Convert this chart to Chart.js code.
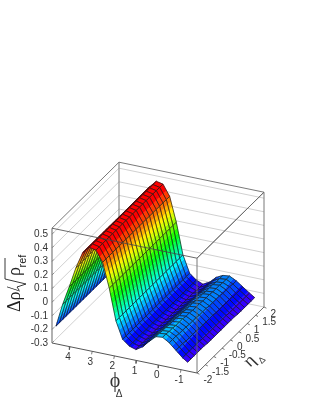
<!DOCTYPE html>
<html>
<head>
<meta charset="utf-8">
<style>
  html, body { margin: 0; padding: 0; background: #fff; }
  canvas { display: block; }
</style>
<script src="https://cdn.jsdelivr.net/npm/chart.js@4"></script>
</head>
<body>
<canvas id="surfaceChart" width="319" height="412"></canvas>
<script>
// Values
const phiNodes = [4.63, 4.33, 4.03, 3.73, 3.43, 3.13, 2.83, 2.53, 2.23, 1.93, 1.63, 1.33, 1.03, 0.73, 0.43, 0.13, -0.17, -0.47, -0.77, -1.07, -1.3];
const etaNodes = [-2, -1.8, -1.6, -1.4, -1.2, -1, -0.8, -0.6, -0.4, -0.2, 0, 0.2, 0.4, 0.6, 0.8, 1, 1.2, 1.4, 1.6, 1.8, 2];
// one row per phi node, one column per eta node
const zRows = [
  [-0.17, -0.17, -0.17, -0.17, -0.17, -0.17, -0.17, -0.17, -0.17, -0.17, -0.17, -0.17, -0.17, -0.17, -0.17, -0.17, -0.17, -0.17, -0.17, -0.17, -0.17],
  [0, 0, 0, 0, 0, 0, 0, 0, 0, 0, 0, 0, 0, 0, 0, 0, 0, 0, 0, 0, 0],
  [0.14, 0.14, 0.14, 0.14, 0.14, 0.14, 0.14, 0.14, 0.14, 0.14, 0.14, 0.14, 0.14, 0.14, 0.14, 0.14, 0.14, 0.14, 0.14, 0.14, 0.14],
  [0.29, 0.29, 0.29, 0.29, 0.29, 0.29, 0.29, 0.29, 0.29, 0.29, 0.29, 0.29, 0.29, 0.29, 0.29, 0.29, 0.29, 0.29, 0.29, 0.29, 0.29],
  [0.41, 0.41, 0.41, 0.41, 0.41, 0.41, 0.41, 0.41, 0.41, 0.41, 0.41, 0.41, 0.41, 0.41, 0.41, 0.41, 0.41, 0.41, 0.41, 0.41, 0.41],
  [0.46, 0.46, 0.46, 0.46, 0.46, 0.46, 0.46, 0.46, 0.46, 0.46, 0.46, 0.46, 0.46, 0.46, 0.46, 0.46, 0.46, 0.46, 0.46, 0.46, 0.46],
  [0.45, 0.45, 0.45, 0.45, 0.45, 0.45, 0.45, 0.45, 0.45, 0.45, 0.45, 0.45, 0.45, 0.45, 0.45, 0.45, 0.45, 0.45, 0.45, 0.45, 0.45],
  [0.37, 0.37, 0.37, 0.37, 0.37, 0.37, 0.37, 0.37, 0.37, 0.37, 0.37, 0.37, 0.37, 0.37, 0.37, 0.37, 0.37, 0.37, 0.37, 0.37, 0.37],
  [0.19, 0.19, 0.19, 0.19, 0.19, 0.19, 0.19, 0.19, 0.19, 0.19, 0.19, 0.19, 0.19, 0.19, 0.19, 0.19, 0.19, 0.19, 0.19, 0.19, 0.19],
  [-0.04, -0.04, -0.04, -0.04, -0.04, -0.04, -0.04, -0.04, -0.04, -0.04, -0.04, -0.04, -0.04, -0.04, -0.04, -0.04, -0.04, -0.04, -0.04, -0.04, -0.04],
  [-0.165, -0.165, -0.165, -0.165, -0.165, -0.165, -0.165, -0.165, -0.165, -0.165, -0.165, -0.165, -0.165, -0.165, -0.165, -0.165, -0.165, -0.165, -0.165, -0.165, -0.165],
  [-0.205, -0.205, -0.205, -0.205, -0.205, -0.205, -0.205, -0.205, -0.205, -0.205, -0.205, -0.205, -0.205, -0.205, -0.205, -0.205, -0.205, -0.205, -0.205, -0.205, -0.205],
  [-0.22, -0.22, -0.22, -0.22, -0.22, -0.22, -0.22, -0.22, -0.22, -0.22, -0.22, -0.22, -0.22, -0.22, -0.22, -0.22, -0.22, -0.22, -0.225, -0.225, -0.225],
  [-0.19, -0.19, -0.19, -0.19, -0.19, -0.195, -0.195, -0.195, -0.195, -0.195, -0.195, -0.195, -0.195, -0.195, -0.195, -0.2, -0.2, -0.2, -0.2, -0.2, -0.2],
  [-0.14, -0.14, -0.14, -0.14, -0.145, -0.145, -0.145, -0.145, -0.145, -0.15, -0.15, -0.15, -0.15, -0.15, -0.15, -0.15, -0.155, -0.155, -0.155, -0.155, -0.155],
  [-0.095, -0.095, -0.1, -0.1, -0.105, -0.105, -0.105, -0.11, -0.11, -0.115, -0.115, -0.115, -0.12, -0.12, -0.12, -0.125, -0.125, -0.125, -0.13, -0.13, -0.13],
  [-0.09, -0.09, -0.095, -0.095, -0.1, -0.1, -0.1, -0.105, -0.105, -0.11, -0.11, -0.11, -0.115, -0.115, -0.115, -0.12, -0.12, -0.12, -0.125, -0.125, -0.125],
  [-0.12, -0.12, -0.12, -0.125, -0.125, -0.125, -0.13, -0.13, -0.13, -0.135, -0.135, -0.135, -0.14, -0.14, -0.14, -0.14, -0.145, -0.145, -0.145, -0.15, -0.15],
  [-0.165, -0.165, -0.165, -0.17, -0.17, -0.17, -0.17, -0.175, -0.175, -0.175, -0.175, -0.175, -0.18, -0.18, -0.18, -0.18, -0.18, -0.185, -0.185, -0.185, -0.185],
  [-0.21, -0.21, -0.21, -0.21, -0.21, -0.21, -0.215, -0.215, -0.215, -0.215, -0.215, -0.215, -0.215, -0.215, -0.22, -0.22, -0.22, -0.22, -0.22, -0.22, -0.22],
  [-0.235, -0.235, -0.235, -0.235, -0.235, -0.235, -0.24, -0.24, -0.24, -0.24, -0.24, -0.24, -0.24, -0.24, -0.24, -0.245, -0.245, -0.245, -0.245, -0.245, -0.245],
];
const phiTicks = [4, 3, 2, 1, 0, -1];
const etaTicks = [-2, -1.5, -1, -0.5, 0, 0.5, 1, 1.5, 2];
const zTicks = [-0.3, -0.2, -0.1, 0, 0.1, 0.2, 0.3, 0.4, 0.5];

// Axis ranges of the box
const phiMin = -1.72, phiMax = 4.81;
const etaMin = -2, etaMax = 2;
const zMin = -0.3, zMax = 0.544;

// Colour bands
const bandCount = 20;
const bandLow = -0.285, bandHigh = 0.445;

// Parallel projection of the box onto the page plane
function project(phi, eta, z) {
  const u = (phiMax - phi) / (phiMax - phiMin);
  const v = (eta - etaMin) / (etaMax - etaMin);
  const w = (z - zMin) / (zMax - zMin);
  return { x: 52 + 145 * u + 67 * v, y: 343 + 30 * u - 66 * v - 114.8 * w };
}

function bandColor(i) {
  const hue = 280 * (1 - (i + 1) / bandCount);
  return "hsl(" + hue + ", 100%, 50%)";
}

// Keep the part of a polygon with z inside [low, high]
function clipZ(poly, low, high) {
  function clip(points, keep, limit) {
    const out = [];
    points.forEach((p, i) => {
      const q = points[(i + 1) % points.length];
      if (keep(p.z)) out.push(p);
      if (keep(p.z) !== keep(q.z)) {
        const t = (limit - p.z) / (q.z - p.z);
        out.push({
          phi: p.phi + (q.phi - p.phi) * t,
          eta: p.eta + (q.eta - p.eta) * t,
          z: limit,
        });
      }
    });
    return out;
  }
  const above = clip(poly, (z) => z >= low, low);
  return above.length ? clip(above, (z) => z <= high, high) : [];
}

function lineSet(points, color, width) {
  return {
    data: points,
    showLine: true,
    fill: false,
    borderColor: color,
    borderWidth: width,
    pointRadius: 0,
    tension: 0,
  };
}

function shapeSet(points, color) {
  const closed = points.concat([points[0]]);
  return {
    data: closed,
    showLine: true,
    fill: "shape",
    backgroundColor: color,
    borderColor: color,
    borderWidth: 0.4,
    pointRadius: 0,
    tension: 0,
  };
}

function segment(a, b, color, width) {
  return lineSet([project(a[0], a[1], a[2]), project(b[0], b[1], b[2])], color, width);
}

const datasets = [];
const wallGrid = "#c4c4c4";
const boxLine = "#6a6a6a";

// Back walls
zTicks.forEach((z) => {
  datasets.push(segment([phiMax, etaMin, z], [phiMax, etaMax, z], wallGrid, 0.8));
  datasets.push(segment([phiMax, etaMax, z], [phiMin, etaMax, z], wallGrid, 0.8));
});
datasets.push(segment([phiMax, etaMax, zMin], [phiMax, etaMax, zMax], "#8a8a8a", 1.2));
datasets.push(segment([phiMin, etaMax, zMin], [phiMin, etaMax, zMax], boxLine, 0.9));
datasets.push(segment([phiMax, etaMin, zMax], [phiMax, etaMax, zMax], boxLine, 0.9));
datasets.push(segment([phiMax, etaMax, zMax], [phiMin, etaMax, zMax], boxLine, 0.9));
datasets.push(segment([phiMin, etaMin, zMax], [phiMin, etaMax, zMax], boxLine, 0.9));

// Surface, far cells first
for (let e = etaNodes.length - 2; e >= 0; e--) {
  for (let p = 0; p < phiNodes.length - 1; p++) {
    const corners = [
      { phi: phiNodes[p], eta: etaNodes[e], z: zRows[p][e] },
      { phi: phiNodes[p + 1], eta: etaNodes[e], z: zRows[p + 1][e] },
      { phi: phiNodes[p + 1], eta: etaNodes[e + 1], z: zRows[p + 1][e + 1] },
      { phi: phiNodes[p], eta: etaNodes[e + 1], z: zRows[p][e + 1] },
    ];
    for (let b = 0; b < bandCount; b++) {
      const low = b === 0 ? -9 : bandLow + ((bandHigh - bandLow) * b) / bandCount;
      const high = b === bandCount - 1 ? 9 : bandLow + ((bandHigh - bandLow) * (b + 1)) / bandCount;
      const part = clipZ(corners, low, high);
      if (part.length > 2) {
        datasets.push(shapeSet(part.map((c) => project(c.phi, c.eta, c.z)), bandColor(b)));
      }
    }
    const outline = corners.concat([corners[0]]).map((c) => project(c.phi, c.eta, c.z));
    datasets.push(lineSet(outline, "#181818", 0.7));
  }
}

// Front box lines, drawn over the surface
datasets.push(segment([phiMax, etaMin, zMin], [phiMax, etaMin, zMax], "#7c7c7c", 1.2));
datasets.push(segment([phiMax, etaMin, zMax], [phiMin, etaMin, zMax], "#444", 0.8));
datasets.push(segment([phiMin, etaMin, zMin], [phiMin, etaMin, zMax], boxLine, 0.9));
datasets.push(segment([phiMin, etaMin, zMax], [phiMin, etaMax, zMax], boxLine, 0.9));
datasets.push(segment([phiMax, etaMin, zMin], [phiMin, etaMin, zMin], "#444", 0.9));
datasets.push(segment([phiMin, etaMin, zMin], [phiMin, etaMax, zMin], "#555", 0.9));

// Tick marks
phiTicks.forEach((t) => {
  const a = project(t, etaMin, zMin);
  datasets.push(lineSet([a, { x: a.x - 0.6, y: a.y + 3 }], "#555", 0.8));
});
etaTicks.forEach((t) => {
  const c = project(phiMin, t, zMin);
  datasets.push(lineSet([c, { x: c.x + 2.4, y: c.y + 1.2 }], "#555", 0.8));
});
zTicks.forEach((t) => {
  const a = project(phiMax, etaMin, t);
  datasets.push(lineSet([a, { x: a.x + 2, y: a.y - 2 }], "#777", 0.7));
});

// Chart.js paints dataset 0 last
datasets.reverse();

// Tick labels and axis titles
const labelPlugin = {
  id: "labelPlugin",
  afterDraw(chart) {
    const ctx = chart.ctx;
    const sx = chart.scales.x;
    const sy = chart.scales.y;
    const put = (text, pos, dx, dy, align) => {
      ctx.textAlign = align;
      ctx.fillText(text, sx.getPixelForValue(pos.x) + dx, sy.getPixelForValue(pos.y) + dy);
    };
    ctx.save();
    ctx.fillStyle = "#333";
    ctx.textBaseline = "middle";
    ctx.font = '10px "Liberation Sans"';
    zTicks.forEach((t) => put(String(t), project(phiMax, etaMin, t), -4, 0, "right"));
    phiTicks.forEach((t) => put(String(t), project(t, etaMin, zMin), -2, 10.5, "center"));
    etaTicks.forEach((t) => put(String(t), project(phiMin, t, zMin), 6.5, 7, "left"));

    // phi title
    ctx.textAlign = "center";
    ctx.font = '20px "Liberation Serif"';
    ctx.fillText("ϕ", 115, 382);
    ctx.font = '10px "Liberation Sans"';
    ctx.fillText("Δ", 119, 394);

    // eta title, turned along the eta axis
    ctx.save();
    ctx.translate(250, 361);
    ctx.rotate(-Math.PI / 4);
    ctx.font = '18px "Liberation Serif"';
    ctx.fillText("η", 0, 0);
    ctx.font = '9px "Liberation Sans"';
    ctx.fillText("Δ", 9, 8);
    ctx.restore();

    // z title
    ctx.save();
    ctx.translate(15, 312);
    ctx.rotate(-Math.PI / 2);
    ctx.textAlign = "left";
    ctx.fillStyle = "#222";
    ctx.font = '18px "Liberation Serif"';
    ctx.fillText("Δρ/", 0, 0);
    ctx.fillText("ρ", 36, 0);
    ctx.font = '11px "Liberation Sans"';
    ctx.fillText("ref", 44.5, 8);
    ctx.strokeStyle = "#222";
    ctx.lineWidth = 0.9;
    ctx.beginPath();
    ctx.moveTo(22, 4);
    ctx.lineTo(25, 2);
    ctx.lineTo(28, 11);
    ctx.lineTo(33, -10);
    ctx.lineTo(54, -10);
    ctx.stroke();
    ctx.restore();
    ctx.restore();
  },
};

new Chart(document.getElementById("surfaceChart").getContext("2d"), {
  type: "scatter",
  data: { datasets: datasets },
  options: {
    responsive: false,
    animation: false,
    events: [],
    layout: { padding: 0 },
    plugins: { legend: { display: false }, tooltip: { enabled: false } },
    scales: {
      x: { type: "linear", min: 0, max: 319, display: false },
      y: { type: "linear", min: 0, max: 412, reverse: true, display: false },
    },
  },
  plugins: [labelPlugin],
});
</script>
</body>
</html>
